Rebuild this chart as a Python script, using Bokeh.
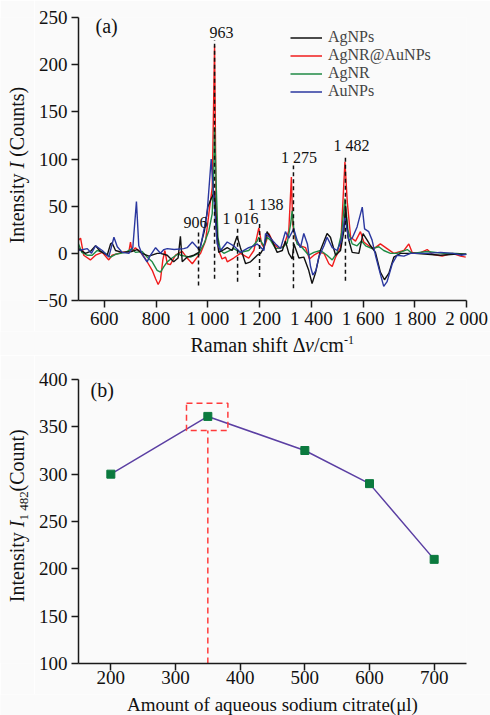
import math
from bokeh.plotting import figure
from bokeh.models import Legend, LegendItem, Label, FixedTicker
from bokeh.layouts import column, row
from bokeh.embed import file_html
from bokeh.resources import INLINE
from bokeh.core.properties import value

FONT = "Liberation Serif"
BG = "#fafafa"

# ---------------- Panel (a) data : Raman spectra ----------------
agnps_x = [500, 527, 546, 566, 585, 611, 624, 630, 643, 669, 707, 727, 746, 772, 804, 817, 843, 868, 885,
           894, 901, 920, 946, 965, 987, 1000, 1013, 1026, 1033, 1042, 1062, 1075, 1094, 1113, 1126, 1146,
           1165, 1191, 1204, 1217, 1229, 1249, 1268, 1288, 1300, 1313, 1326, 1333, 1352, 1371, 1390, 1403,
           1416, 1435, 1461, 1474, 1494, 1513, 1526, 1532, 1542, 1558, 1584, 1600, 1616, 1629, 1648, 1667,
           1683, 1700, 1719, 1745, 1800, 1850, 1900, 1950, 2000]
agnps_y = [5, 0, 2, 8, 2, -2, 10, 11, 3, 1, 2, 4, 0, -3, 0, 0, -2, -9, -5,
           18, -9, -4, -2, 1, 24, 49, 58, 65, 30, 1, 4, 6, 3, 18, 6, -11,
           -9, -2, 0, 6, 23, 13, 1, 3, 13, 0, -6, 10, -5, -4, -18, -32,
           -21, 3, 21, 17, -2, 3, 24, 50, 17, 1, 0, 21, 14, 8, 1, -20,
           -28, -21, -4, 0, 0, -1, -2, -1, -1]

agnr_aunps_x = [500, 508, 520, 546, 566, 592, 617, 630, 669, 695, 701, 707, 720, 740, 759, 785, 798, 808, 817,
                826, 834, 843, 855, 875, 901, 920, 940, 959, 972, 991, 1004, 1017, 1026, 1033, 1042, 1055,
                1068, 1075, 1100, 1126, 1158, 1178, 1197, 1208, 1217, 1236, 1255, 1274, 1294, 1313, 1323,
                1328, 1339, 1358, 1378, 1393, 1410, 1429, 1449, 1468, 1481, 1494, 1513, 1522, 1530, 1539,
                1552, 1571, 1590, 1603, 1622, 1642, 1667, 1693, 1719, 1758, 1777, 1790, 1816, 1848, 1868,
                1906, 1945, 1977, 1997]
agnr_aunps_y = [14, 16, -2, -7, -2, 1, -7, -2, 1, 2, 12, 2, 6, 1, -6, -18, -27, -33, -28,
                -7, 3, -11, -12, -2, 2, -5, -11, -4, 0, 13, 42, 70, 220, 24, 3, -6,
                -4, -9, -5, 0, -5, 3, 27, 10, 6, 21, 10, 5, 8, 24, 81,
                31, 14, 8, 6, -6, -2, 1, 0, -11, -14, -4, 6, 53, 97, 55,
                17, 13, 23, 12, 8, 5, 10, 5, 0, 3, 10, 1, 0, 4, -1,
                -3, 0, -3, -4]

agnr_x = [500, 513, 533, 553, 572, 598, 624, 643, 682, 707, 720, 746, 765, 785, 804, 817, 830, 843, 862,
          888, 894, 933, 965, 985, 1004, 1017, 1023, 1026, 1033, 1039, 1049, 1062, 1100, 1126, 1158, 1191,
          1197, 1216, 1229, 1242, 1262, 1287, 1307, 1320, 1326, 1333, 1345, 1365, 1390, 1410, 1436, 1461,
          1481, 1500, 1517, 1530, 1542, 1558, 1577, 1594, 1610, 1635, 1661, 1680, 1706, 1732, 1771, 1790,
          1848, 1912, 1960, 2000]
agnr_y = [10, 1, -2, -2, 3, 1, -4, -1, 1, 5, 1, 2, -4, -9, -18, -20, -14, -9, -5,
          0, -2, -4, 0, 10, 24, 42, 88, 134, 67, 17, 3, 0, 5, 1, 3, 13,
          17, 8, 17, 14, 5, 6, 11, 31, 45, 24, 10, 6, -2, 1, 3, -2,
          -7, 1, 21, 58, 24, 10, 8, 13, 8, 5, 7, 3, 0, 0, 4, 0,
          2, 0, 0, -1]

aunps_x = [500, 534, 550, 566, 592, 617, 637, 650, 669, 695, 710, 724, 733, 746, 765, 776, 798, 817, 830,
           843, 870, 907, 920, 940, 963, 972, 997, 1013, 1023, 1036, 1049, 1075, 1100, 1126, 1158, 1178,
           1191, 1217, 1223, 1236, 1262, 1281, 1300, 1313, 1332, 1345, 1358, 1371, 1385, 1397, 1406, 1418,
           1429, 1449, 1461, 1481, 1500, 1517, 1530, 1545, 1558, 1577, 1597, 1606, 1622, 1635, 1648, 1667,
           1680, 1693, 1713, 1732, 1758, 1784, 1850, 1900, 1950, 1980, 2000]
aunps_y = [3, 5, 0, 8, 3, -4, 17, 7, 1, 0, 6, 55, 8, -1, -9, -3, 6, 0, 4,
           5, 4, 5, 6, 12, 5, 7, 42, 100, 60, 10, 3, 12, 8, 1, 6, 8,
           10, 3, 21, 18, 10, 5, 23, 16, 26, 14, 6, 21, 10, -14, -23, -18,
           -4, 8, 17, 6, 3, 14, 38, 14, 16, 28, 49, 26, 23, 14, -2, -22,
           -35, -30, -11, -2, -3, 0, 0, 1, 0, -2, -1]

series_names = ["AgNPs", "AgNR@AuNPs", "AgNR", "AuNPs"]

# peak annotations (wavenumber labels, position on axis, dashed-line extent)
peak_labels = ["906", "963", "1 016", "1 138", "1 275", "1 482"]
peak_pos = [964, 1026, 1115, 1200, 1331, 1532]
peak_line_top = [22, 226, 28, 33, 93, 104]
peak_line_bottom = [-34, -27, -30, -25, -37, -29]
peak_label_x = [952, 1053, 1126, 1223, 1352, 1555]
peak_label_y = [32.7, 234.4, 36.6, 52.1, 101.6, 114]

xa_ticks = [600, 800, 1000, 1200, 1400, 1600, 1800, 2000]
xa_tick_labels = ["600", "800", "1 000", "1 200", "1 400", "1 600", "1 800", "2 000"]
ya_ticks = [-50, 0, 50, 100, 150, 200, 250]

# ---------------- Panel (b) data ----------------
citrate_ul = [200, 350, 500, 600, 700]
intensity_1482 = [300, 361, 325, 290, 210]
xb_ticks = [200, 300, 400, 500, 600, 700]
yb_ticks = [100, 150, 200, 250, 300, 350, 400]
best_amount = 350
box_left, box_right, box_bottom, box_top = 317, 381, 346, 375

# ---------------- layout sizes (page has no margin) ----------------
LAB_W = 34          # strip holding the rotated y titles
MAIN_LEFT = 44      # left border of the main plots (tick labels)
FRAME_W = 388
RIGHT = 24
ROW_W = LAB_W + MAIN_LEFT + FRAME_W + RIGHT      # 490
A_TOP, A_FRAME, A_BOTTOM = 17, 283, 31           # frame 17..300, plot ends 331
A_TITLE_H = 24                                   # 331..355
B_TOP, B_FRAME, B_BOTTOM = 24, 284, 31           # frame 379..663, plot ends 694
B_TITLE_H = 21                                   # 694..715


def style_axes(p):
    for ax in (p.xaxis[0], p.yaxis[0]):
        ax.axis_line_color = "#1a1a1a"
        ax.axis_line_width = 1.5
        ax.major_tick_line_color = "#1a1a1a"
        ax.major_tick_line_width = 1.5
        ax.major_tick_out = 7
        ax.major_tick_in = 0
        ax.minor_tick_line_color = None
        ax.major_label_text_font = FONT
        ax.major_label_text_font_size = "19px"
        ax.major_label_text_color = "#111111"
    p.xaxis[0].major_label_standoff = 0
    p.yaxis[0].major_label_standoff = 4
    p.xgrid.visible = False
    p.ygrid.visible = False


def lab(p, x, y, text, size="20px", style="normal", angle=0.0, align="left"):
    p.add_layout(Label(x=x, y=y, text=text, angle=angle, text_font=FONT, text_font_size=size,
                       text_font_style=style, text_align=align, text_baseline="middle",
                       text_color="#111111"))


def text_fig(w, h, top=0, frame_h=None, bottom=0):
    fh = h if frame_h is None else frame_h
    return figure(width=w, height=top + fh + bottom, x_range=(0, w), y_range=(0, fh),
                  x_axis_type=None, y_axis_type=None, title=None, output_backend="svg",
                  toolbar_location=None, min_border_left=0, min_border_right=0,
                  min_border_top=top, min_border_bottom=bottom,
                  background_fill_color=BG, border_fill_color=BG, outline_line_color=None)


# ---------------- Figure (a) ----------------
p1 = figure(frame_width=FRAME_W, frame_height=A_FRAME, x_range=(500, 2000), y_range=(-50, 250),
            title=None, output_backend="svg", toolbar_location=None,
            min_border_left=MAIN_LEFT, min_border_right=RIGHT, min_border_top=A_TOP,
            min_border_bottom=A_BOTTOM,
            background_fill_color=BG, border_fill_color=BG, outline_line_color=None)
style_axes(p1)
p1.xaxis.ticker = FixedTicker(ticks=xa_ticks)
p1.xaxis.major_label_overrides = dict(zip(xa_ticks, xa_tick_labels))
p1.yaxis.ticker = FixedTicker(ticks=ya_ticks)

r_red = p1.line(agnr_aunps_x, agnr_aunps_y, line_color="#f01c1c", line_width=1.4)
r_green = p1.line(agnr_x, agnr_y, line_color="#1f8a45", line_width=1.4)
r_black = p1.line(agnps_x, agnps_y, line_color="#111111", line_width=1.4)
r_blue = p1.line(aunps_x, aunps_y, line_color="#2a379f", line_width=1.4)

p1.segment(x0=peak_pos, y0=peak_line_bottom, x1=peak_pos, y1=peak_line_top,
           line_color="#111111", line_width=1.5, line_dash="4 3")
p1.text(x=peak_label_x, y=peak_label_y, text=peak_labels, text_font=value(FONT),
        text_font_size="16px", text_align="center", text_baseline="middle", text_color="#111111")

legend = Legend(items=[LegendItem(label=n, renderers=[r]) for n, r in
                       zip(series_names, [r_black, r_red, r_green, r_blue])],
                location=(212, 200), label_text_font=FONT, label_text_font_size="16px",
                glyph_width=32, glyph_height=17, label_height=17, spacing=-4, padding=0, margin=0,
                label_standoff=6, background_fill_alpha=0, border_line_color=None)
p1.add_layout(legend)


def a_x(px):
    return 500 + (px - 78) * 1500 / 388


def a_y(py):
    return (300 - py) * 300 / 283 - 50


lab(p1, a_x(95), a_y(25), "(a)")

# rotated y title of (a): strip frame shares the plot frame rows 17..300 (page y = 300 - y)
ya_fig = text_fig(LAB_W, A_FRAME, top=A_TOP, frame_h=A_FRAME, bottom=A_BOTTOM)
lab(ya_fig, 16.3, 57, "Intensity", angle=math.pi / 2)
lab(ya_fig, 16.3, 132, "I", style="italic", angle=math.pi / 2)
lab(ya_fig, 16.3, 143.7, "(Counts)", angle=math.pi / 2)

# x title of (a)  (page y = 355 - y)
xa_fig = text_fig(ROW_W, A_TITLE_H)
lab(xa_fig, 190, 11, "Raman shift \u0394")
lab(xa_fig, 304.5, 11, "\u03bd", style="italic")
lab(xa_fig, 313.4, 11, "/cm")
lab(xa_fig, 343.4, 16, "-1", size="12px")

# ---------------- Figure (b) ----------------
p2 = figure(frame_width=FRAME_W, frame_height=B_FRAME, x_range=(150, 750), y_range=(100, 400),
            title=None, output_backend="svg", toolbar_location=None,
            min_border_left=MAIN_LEFT, min_border_right=RIGHT, min_border_top=B_TOP,
            min_border_bottom=B_BOTTOM,
            background_fill_color=BG, border_fill_color=BG, outline_line_color=None)
style_axes(p2)
p2.xaxis.ticker = FixedTicker(ticks=xb_ticks)
p2.yaxis.ticker = FixedTicker(ticks=yb_ticks)

p2.line(citrate_ul, intensity_1482, line_color="#5b3fa3", line_width=1.5)
p2.scatter(citrate_ul, intensity_1482, marker="square", size=8, fill_color="#0b7a3e",
           line_color="#0b7a3e")
p2.quad(left=[box_left], right=[box_right], bottom=[box_bottom], top=[box_top], fill_color=None,
        line_color="#ff3b3b", line_width=1.5, line_dash="6 4")
p2.segment(x0=[best_amount], y0=[100], x1=[best_amount], y1=[box_bottom], line_color="#ff3b3b",
           line_width=1.5, line_dash="6 4")


def b_x(px):
    return 150 + (px - 78) * 600 / 388


def b_y(py):
    return 100 + (663 - py) * 300 / 284


lab(p2, b_x(90), b_y(389.3), "(b)")

# rotated y title of (b): strip frame shares the plot frame rows 379..663 (page y = 663 - y)
yb_fig = text_fig(LAB_W, B_FRAME, top=B_TOP, frame_h=B_FRAME, bottom=B_BOTTOM)
lab(yb_fig, 16.6, 61.3, "Intensity", angle=math.pi / 2)
lab(yb_fig, 16.6, 136.3, "I", style="italic", angle=math.pi / 2)
lab(yb_fig, 23.1, 143, "1 482", size="13px", angle=math.pi / 2)
lab(yb_fig, 16.6, 172, "(Count)", angle=math.pi / 2)

# x title of (b)  (page y = 715 - y)
xb_fig = text_fig(ROW_W, B_TITLE_H)
lab(xb_fig, 272, 11, "Amount of aqueous sodium citrate(\u03bcl)", size="19px", align="center")

layout = column(row(ya_fig, p1, spacing=0), xa_fig, row(yb_fig, p2, spacing=0), xb_fig, spacing=0)
open("out.html", "w").write(file_html(layout, INLINE))
